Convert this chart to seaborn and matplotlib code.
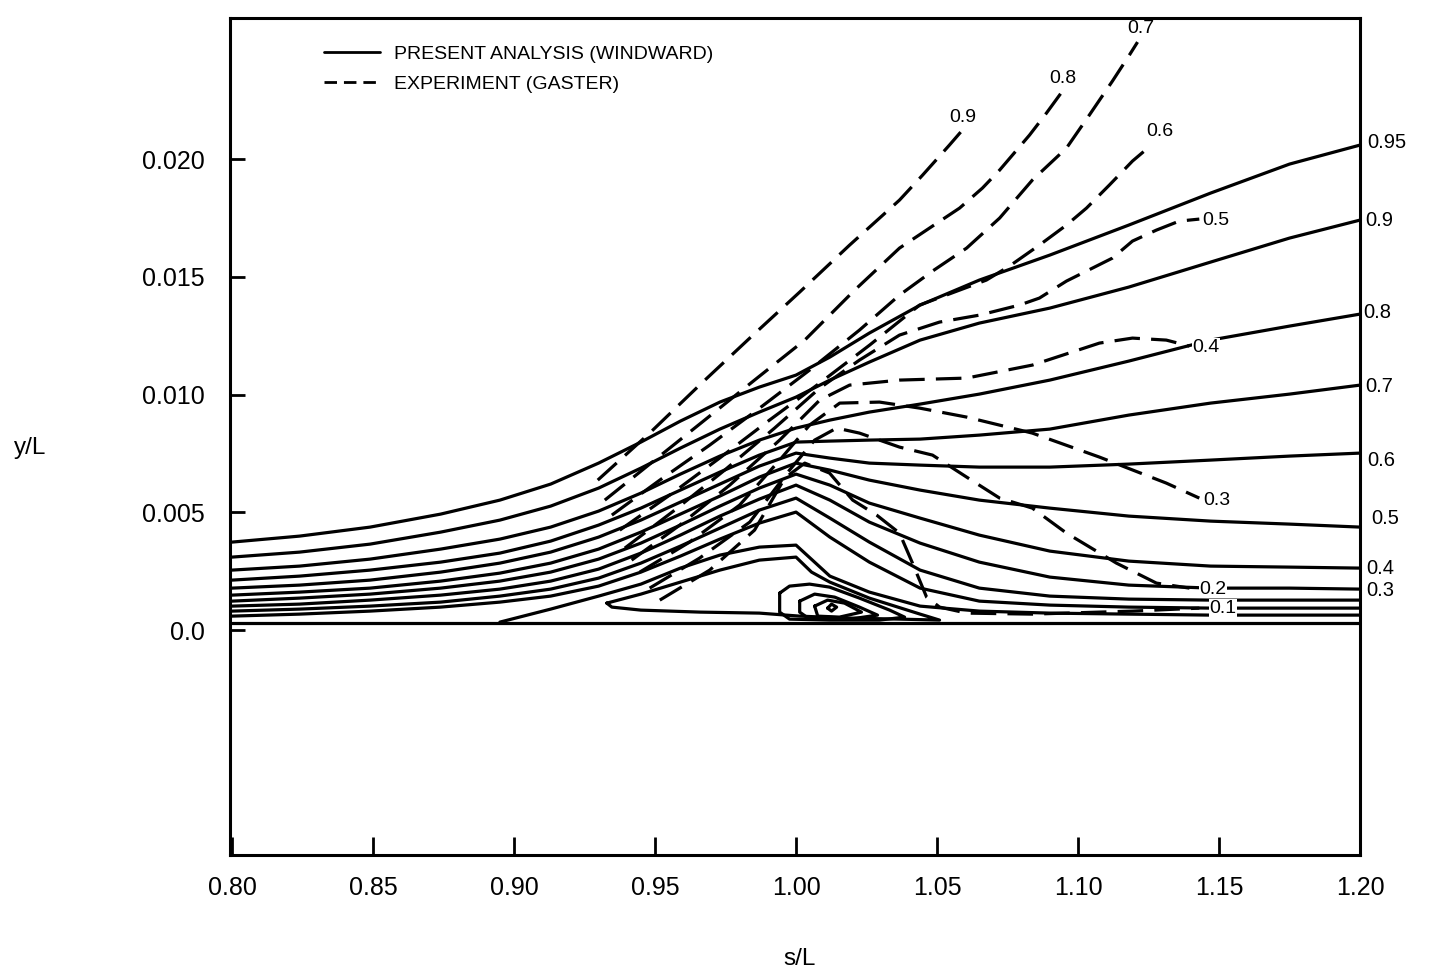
import matplotlib
matplotlib.use("Agg")
import matplotlib.pyplot as plt
import seaborn as sns
import pandas as pd
from matplotlib.lines import Line2D

sns.set_theme(style="white")
plt.rcParams['font.family'] = ['Liberation Sans', 'DejaVu Sans']
plt.rcParams['text.color'] = 'black'
plt.rcParams['axes.labelcolor'] = 'black'
plt.rcParams['xtick.color'] = 'black'
plt.rcParams['ytick.color'] = 'black'

Y_UNIT = 1e-3  # all y/L values below are written in thousandths

SOLID = 'PRESENT ANALYSIS (WINDWARD)'
DASH = 'EXPERIMENT (GASTER)'

# stations along s/L for the computed contours
s_st = [0.800, 0.824, 0.849, 0.874, 0.895, 0.913, 0.930, 0.945, 0.959, 0.973, 0.987,
        1.000, 1.012, 1.026, 1.044, 1.065, 1.090, 1.118, 1.147, 1.175, 1.200]

sol_095 = [3.737, 3.992, 4.374, 4.926, 5.520, 6.200, 7.091, 7.983, 8.875, 9.682, 10.318,
           10.828, 11.592, 12.612, 13.800, 14.862, 15.924, 17.198, 18.556, 19.788, 20.595]
sol_090 = [3.100, 3.312, 3.652, 4.161, 4.671, 5.265, 6.030, 6.879, 7.728, 8.535, 9.257,
           9.894, 10.616, 11.380, 12.314, 13.036, 13.673, 14.565, 15.626, 16.646, 17.410]
sol_080 = [2.548, 2.718, 3.015, 3.440, 3.864, 4.374, 5.053, 5.817, 6.624, 7.389, 8.068,
           8.578, 8.917, 9.257, 9.597, 10.021, 10.616, 11.423, 12.314, 12.909, 13.418]
sol_070 = [2.123, 2.293, 2.548, 2.887, 3.270, 3.779, 4.459, 5.180, 5.945, 6.709, 7.431,
           7.983, 8.026, 8.068, 8.110, 8.280, 8.535, 9.130, 9.639, 10.021, 10.403]
sol_060 = [1.783, 1.911, 2.123, 2.463, 2.845, 3.312, 3.949, 4.671, 5.435, 6.200, 6.964,
           7.516, 7.304, 7.091, 7.006, 6.921, 6.921, 7.049, 7.219, 7.389, 7.516]
sol_050 = [1.486, 1.614, 1.783, 2.081, 2.420, 2.845, 3.440, 4.161, 4.926, 5.690, 6.497,
           7.091, 6.794, 6.369, 5.945, 5.520, 5.180, 4.841, 4.628, 4.501, 4.374]
sol_040 = [1.231, 1.359, 1.529, 1.783, 2.081, 2.463, 3.015, 3.694, 4.459, 5.265, 6.030,
           6.624, 6.157, 5.393, 4.756, 4.034, 3.355, 2.930, 2.718, 2.675, 2.633]
sol_030 = [1.019, 1.104, 1.274, 1.486, 1.741, 2.081, 2.590, 3.270, 4.034, 4.841, 5.563,
           6.157, 5.520, 4.586, 3.694, 2.887, 2.251, 1.911, 1.783, 1.783, 1.741]
sol_020 = [0.807, 0.892, 1.019, 1.189, 1.444, 1.741, 2.208, 2.845, 3.567, 4.331, 5.096,
           5.605, 4.756, 3.737, 2.548, 1.783, 1.444, 1.316, 1.274, 1.274, 1.274]
sol_010 = [0.594, 0.679, 0.807, 0.977, 1.189, 1.444, 1.868, 2.463, 3.142, 3.864, 4.544,
           5.011, 3.949, 2.887, 1.783, 1.231, 1.062, 0.977, 0.934, 0.934, 0.934]
# lowest computed contour, leaves the wall at s/L ~ 0.895
sol_low = [0.340, 0.892, 1.444, 1.953, 2.633, 3.185, 3.524, 3.609, 2.293, 1.614, 1.019,
           0.807, 0.722, 0.679, 0.637, 0.637, 0.637]

# separation bubble contours (closed)
bub_a_s = [0.9329, 0.945, 0.959, 0.973, 0.987, 1.000, 1.0055, 1.012, 1.026, 1.044, 1.0509,
           1.0367, 1.019, 1.0013, 0.987, 0.966, 0.945, 0.9347, 0.9329]
bub_a_y = [1.146, 1.529, 2.038, 2.548, 2.972, 3.100, 2.463, 2.038, 1.359, 0.679, 0.425,
           0.467, 0.510, 0.594, 0.722, 0.764, 0.849, 0.977, 1.146]
bub_b_s = [0.9942, 0.9977, 1.0048, 1.0119, 1.0225, 1.0332, 1.0385, 1.0296, 1.0119, 0.9977, 0.9942, 0.9942]
bub_b_y = [1.571, 1.868, 1.953, 1.826, 1.359, 0.849, 0.552, 0.425, 0.425, 0.467, 0.764, 1.571]
bub_c_s = [1.0013, 1.0066, 1.0137, 1.0225, 1.0289, 1.0190, 1.0048, 1.0013, 1.0013]
bub_c_y = [1.231, 1.529, 1.401, 0.977, 0.637, 0.467, 0.467, 0.764, 1.231]
bub_d_s = [1.0066, 1.0112, 1.0172, 1.0232, 1.0154, 1.0077, 1.0066]
bub_d_y = [1.019, 1.274, 1.146, 0.764, 0.552, 0.594, 1.019]
bub_e_s = [1.0112, 1.0126, 1.0144, 1.0126, 1.0112]
bub_e_y = [0.934, 1.104, 0.977, 0.807, 0.934]

wall_s = [0.800, 1.200]
wall_y = [0.30, 0.30]

# experimental contours (Gaster)
exp_09_s = [0.9297, 0.9481, 0.9658, 0.9836, 1.0013, 1.0190, 1.0367, 1.0449, 1.0544, 1.0587]
exp_09_y = [6.369, 8.365, 10.403, 12.399, 14.353, 16.348, 18.259, 19.321, 20.595, 21.189]
exp_08_s = [0.9322, 0.9499, 0.9676, 0.9853, 1.0031, 1.0208, 1.0367, 1.0484, 1.0580, 1.0661,
            1.0722, 1.0828, 1.0888, 1.0945]
exp_08_y = [5.520, 7.219, 8.917, 10.616, 12.314, 14.437, 16.221, 17.155, 17.919, 18.769,
            19.533, 21.019, 21.953, 22.888]
exp_07_s = [0.9347, 0.9517, 0.9694, 0.9871, 1.0048, 1.0225, 1.0367, 1.0484, 1.0605, 1.0722,
            1.0838, 1.0959, 1.1040, 1.1122, 1.1182, 1.1211]
exp_07_y = [4.883, 6.369, 7.856, 9.427, 11.040, 12.739, 14.225, 15.244, 16.221, 17.495,
            19.108, 20.467, 21.868, 23.312, 24.416, 24.968]
exp_06_s = [0.9375, 0.9552, 0.9729, 0.9906, 1.0084, 1.0261, 1.0438, 1.0580, 1.0675, 1.0757,
            1.0863, 1.0959, 1.1030, 1.1111, 1.1193, 1.1260]
exp_06_y = [4.246, 5.733, 7.304, 8.917, 10.488, 12.102, 13.800, 14.437, 14.862, 15.457,
            16.348, 17.198, 17.919, 18.896, 19.915, 20.595]
exp_05_s = [0.9393, 0.9570, 0.9747, 0.9924, 1.0084, 1.0225, 1.0367, 1.0509, 1.0651, 1.0792,
            1.0863, 1.0959, 1.1030, 1.1122, 1.1193, 1.1278, 1.1359, 1.1430]
exp_05_y = [3.482, 5.096, 6.794, 8.578, 10.276, 11.465, 12.527, 13.079, 13.376, 13.800,
            14.098, 14.820, 15.244, 15.796, 16.518, 16.985, 17.367, 17.452]
exp_04_s = [0.9417, 0.9588, 0.9765, 0.9942, 1.0084, 1.0190, 1.0367, 1.0605, 1.0838, 1.1076,
            1.1193, 1.1313, 1.1395]
exp_04_y = [2.972, 4.459, 6.157, 8.068, 9.766, 10.403, 10.616, 10.701, 11.253, 12.187,
            12.399, 12.314, 12.059]
exp_03_s = [0.9446, 0.9623, 0.9800, 0.9942, 1.0048, 1.0155, 1.0296, 1.0438, 1.0605, 1.0838,
            1.1076, 1.1313, 1.1430]
exp_03_y = [2.463, 3.739, 5.308, 7.219, 8.705, 9.639, 9.682, 9.427, 9.045, 8.365,
            7.346, 6.242, 5.605]
exp_02_s = [0.9481, 0.9658, 0.9836, 0.9977, 1.0066, 1.0144, 1.0225, 1.0367, 1.0484, 1.0605,
            1.0722, 1.0838, 1.0959, 1.1136, 1.1278, 1.1395]
exp_02_y = [1.783, 3.057, 4.586, 6.794, 8.068, 8.578, 8.365, 7.771, 7.431, 6.497,
            5.605, 5.180, 4.119, 2.845, 1.996, 1.783]
exp_01_s = [0.9517, 0.9694, 0.9853, 0.9960, 1.0031, 1.0119, 1.0201, 1.0286, 1.0367, 1.0413,
            1.0463, 1.0509, 1.0605, 1.0838, 1.1193, 1.1430]
exp_01_y = [1.274, 2.548, 4.246, 6.454, 7.091, 6.667, 5.520, 4.883, 4.119, 2.845,
            1.401, 0.977, 0.722, 0.679, 0.807, 0.934]

# contour labels
right_labels = ['0.95', '0.9', '0.8', '0.7', '0.6', '0.5', '0.4', '0.3']
right_lab_s = [1.2026, 1.2019, 1.2011, 1.2019, 1.2026, 1.2040, 1.2022, 1.2022]
right_lab_y = [20.72, 17.41, 13.50, 10.36, 7.22, 4.76, 2.63, 1.70]
exp_labels = ['0.7', '0.8', '0.9', '0.6', '0.5', '0.4', '0.3', '0.2', '0.1']
exp_lab_s = [1.1175, 1.0899, 1.0544, 1.1242, 1.1441, 1.1405, 1.1444, 1.1430, 1.1466]
exp_lab_y = [25.56, 23.44, 21.78, 21.15, 17.41, 12.02, 5.52, 1.74, 0.93]
exp_lab_gap = [False, False, False, False, False, True, False, True, True]

x_ticks = [0.80, 0.85, 0.90, 0.95, 1.00, 1.05, 1.10, 1.15, 1.20]
x_tick_labels = ['0.80', '0.85', '0.90', '0.95', '1.00', '1.05', '1.10', '1.15', '1.20']
y_ticks = [0.0, 0.005, 0.010, 0.015, 0.020]
y_tick_labels = ['0.0', '0.005', '0.010', '0.015', '0.020']

curves = [
    ('c095', SOLID, s_st, sol_095), ('c090', SOLID, s_st, sol_090),
    ('c080', SOLID, s_st, sol_080), ('c070', SOLID, s_st, sol_070),
    ('c060', SOLID, s_st, sol_060), ('c050', SOLID, s_st, sol_050),
    ('c040', SOLID, s_st, sol_040), ('c030', SOLID, s_st, sol_030),
    ('c020', SOLID, s_st, sol_020), ('c010', SOLID, s_st, sol_010),
    ('clow', SOLID, s_st[4:], sol_low),
    ('ba', SOLID, bub_a_s, bub_a_y), ('bb', SOLID, bub_b_s, bub_b_y),
    ('bc', SOLID, bub_c_s, bub_c_y), ('bd', SOLID, bub_d_s, bub_d_y),
    ('be', SOLID, bub_e_s, bub_e_y), ('wall', SOLID, wall_s, wall_y),
    ('e09', DASH, exp_09_s, exp_09_y), ('e08', DASH, exp_08_s, exp_08_y),
    ('e07', DASH, exp_07_s, exp_07_y), ('e06', DASH, exp_06_s, exp_06_y),
    ('e05', DASH, exp_05_s, exp_05_y), ('e04', DASH, exp_04_s, exp_04_y),
    ('e03', DASH, exp_03_s, exp_03_y), ('e02', DASH, exp_02_s, exp_02_y),
    ('e01', DASH, exp_01_s, exp_01_y),
]

rows = []
for name, kind, ss, yy in curves:
    for a, b in zip(ss, yy):
        rows.append({'curve': name, 'kind': kind, 's': a, 'y': b * Y_UNIT})
df = pd.DataFrame(rows)

fig = plt.figure(figsize=(14.33, 9.68), dpi=100)
ax = fig.add_axes([0.1605, 0.1167, 0.7886, 0.8647])

sns.lineplot(data=df, x='s', y='y', units='curve', style='kind', estimator=None, sort=False,
             color='black', linewidth=2.3, dashes={SOLID: '', DASH: (8, 3.5)},
             legend=False, ax=ax)

ax.set_xlim(0.7993, 1.1997)
ax.set_ylim(-0.00955, 0.02599)
ax.set_xticks(x_ticks)
ax.set_xticklabels(x_tick_labels)
ax.set_yticks(y_ticks)
ax.set_yticklabels(y_tick_labels)
ax.tick_params(axis='x', direction='in', length=13, width=2, pad=15, labelsize=18,
               bottom=True, colors='black')
ax.tick_params(axis='y', direction='in', length=11, width=2, pad=18, labelsize=18,
               left=True, colors='black')
for sp in ax.spines.values():
    sp.set_linewidth(2.2)
    sp.set_color('black')

ax.set_xlabel('s/L', fontsize=17.5, color='black')
ax.set_ylabel('y/L', fontsize=17.5, rotation=0, color='black', ha='center', va='center')
ax.xaxis.set_label_coords(0.504, -0.111)
ax.yaxis.set_label_coords(-0.177, 0.486)

for lab, xs, ys in zip(right_labels, right_lab_s, right_lab_y):
    ax.text(xs, ys * Y_UNIT, lab, ha='left', va='center', fontsize=14.5, color='black')
for lab, xs, ys, gap in zip(exp_labels, exp_lab_s, exp_lab_y, exp_lab_gap):
    kw = {}
    if gap:
        kw['bbox'] = dict(facecolor='white', edgecolor='none', pad=0.3)
    ax.text(xs, ys * Y_UNIT, lab, ha='left', va='center', fontsize=14, color='black',
            zorder=6, **kw)

handles = [Line2D([0], [0], color='black', lw=2.0),
           Line2D([0], [0], color='black', lw=2.0, dashes=(4.5, 2.5))]
ax.legend(handles, [SOLID, DASH], loc='upper left', bbox_to_anchor=(0.083, 0.967),
          frameon=False, fontsize=14, handlelength=2.9, handletextpad=0.7,
          labelspacing=0.6, borderaxespad=0, borderpad=0, labelcolor='black')

fig.savefig('out.png', dpi=100)
